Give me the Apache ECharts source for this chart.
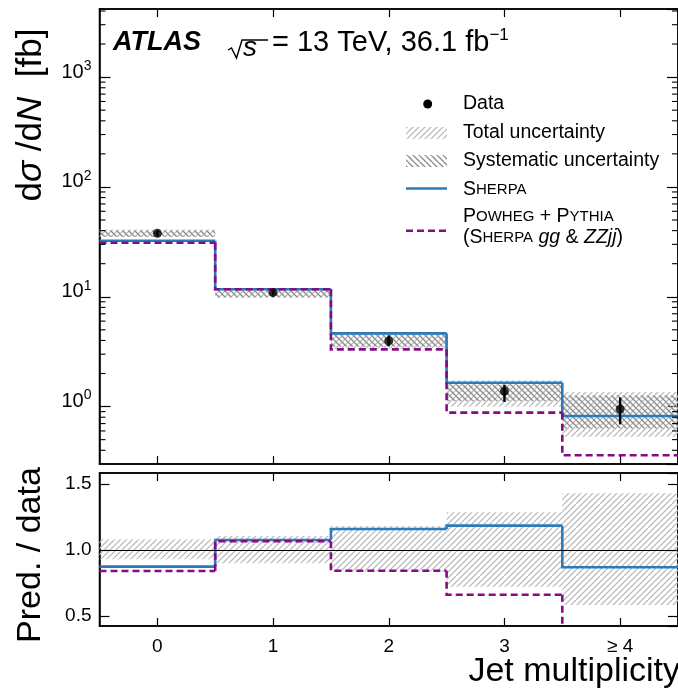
<!DOCTYPE html>
<html>
<head>
<meta charset="utf-8">
<script src="https://cdn.jsdelivr.net/npm/echarts@6/dist/echarts.min.js"></script>
<style>
  html, body { margin: 0; padding: 0; background: #fff; }
  #chart { width: 678px; height: 698px; }
</style>
</head>
<body>
<div id="chart"></div>
<script>
// jet multiplicity bins
const categories = ['0', '1', '2', '3', '≥ 4'];

// upper panel, dsigma/dN [fb]
const dataValues   = [37.8, 10.9, 3.96, 1.38, 0.95];
const dataErrLow   = [35.6, 10.3, 3.55, 1.10, 0.69];
const dataErrHigh  = [40.2, 11.5, 4.45, 1.57, 1.21];
const sherpaValues = [32.4, 11.7, 4.64, 1.65, 0.82];
const powhegValues = [31.0, 11.7, 3.32, 0.88, 0.36];
const totalLow  = [35.0, 9.8, 3.35, 1.00, 0.53];
const totalHigh = [40.9, 12.0, 4.70, 1.74, 1.36];
const systLow   = [35.2, 9.9, 3.50, 1.12, 0.63];
const systHigh  = [40.2, 11.4, 4.60, 1.60, 1.27];

// lower panel, prediction / data
const ratioLow    = [0.930, 0.900, 0.836, 0.722, 0.583];
const ratioHigh   = [1.081, 1.106, 1.182, 1.286, 1.430];
const ratioSherpa = [0.874, 1.076, 1.159, 1.184, 0.869];
const ratioPowheg = [0.841, 1.066, 0.842, 0.661, 0.380];

// tick labels
const logTickExps = [0, 1, 2, 3];
const ratioTickLabels = ['0.5', '1.0', '1.5'];
// minor ticks of the log axis (2..9 x 10^k)
const minorTicks = [];
[0.1, 1, 10, 100, 1000].forEach(d => [2,3,4,5,6,7,8,9].forEach(m => {
  const v = +(m * d).toPrecision(3);
  if (v > 0.3 && v < 4170) minorTicks.push(v);
}));

const FONT = 'Liberation Sans, Arial, Helvetica, sans-serif';
const BLUE = '#2b7bba';
const PURPLE = '#850c85';

function hatch(color, forward, size, lw) {
  const c = document.createElement('canvas');
  c.width = c.height = size;
  const g = c.getContext('2d');
  g.strokeStyle = color;
  g.lineWidth = lw;
  g.beginPath();
  for (let k = -1; k <= 1; k++) {
    if (forward) { g.moveTo(k * size, size); g.lineTo(k * size + size, 0); }
    else { g.moveTo(k * size, 0); g.lineTo(k * size + size, size); }
  }
  g.stroke();
  return c;
}
const totalFill = { image: hatch('#bcbcbc', true, 6, 1.3), repeat: 'repeat' };
const systFill = { image: hatch('#8a8a8a', false, 6, 1.3), repeat: 'repeat' };

const bandData = (lo, hi) => lo.map((l, i) => [i, l, hi[i]]);
const stepData = vals => vals.map((v, i) => [i, v, i > 0 ? vals[i - 1] : v]);

function bandRender(fill) {
  return function (params, api) {
    const i = api.value(0);
    const w = api.size([1, 1], [i, 1])[0];
    const a = api.coord([i, api.value(2)]);
    const b = api.coord([i, api.value(1)]);
    return { type: 'rect', shape: { x: a[0] - w / 2, y: a[1], width: w, height: b[1] - a[1] }, style: { fill: fill } };
  };
}
function stepRender(color, dash) {
  return function (params, api) {
    const i = api.value(0);
    const w = api.size([1, 1], [i, 1])[0];
    const c = api.coord([i, api.value(1)]);
    const pts = [];
    if (i > 0) pts.push([c[0] - w / 2, api.coord([i, api.value(2)])[1]]);
    pts.push([c[0] - w / 2, c[1]], [c[0] + w / 2, c[1]]);
    return { type: 'polyline', shape: { points: pts }, style: { stroke: color, lineWidth: 2.6, lineDash: dash, fill: null } };
  };
}
function errRender(params, api) {
  const lo = api.coord([api.value(0), api.value(1)]);
  const hi = api.coord([api.value(0), api.value(2)]);
  return { type: 'line', shape: { x1: lo[0], y1: lo[1], x2: hi[0], y2: hi[1] }, style: { stroke: '#000', lineWidth: 2.4 } };
}
// minor tick on the left (side 0) or right (side 4) frame
function minorRender(side) {
  return function (params, api) {
    const w = api.size([1, 1], [side, 1])[0];
    const c = api.coord([side, api.value(1)]);
    const x0 = side === 0 ? c[0] - w / 2 : c[0] + w / 2;
    const x1 = side === 0 ? x0 + 6 : x0 - 6;
    return { type: 'line', shape: { x1: x0, y1: c[1], x2: x1, y2: c[1] }, style: { stroke: '#000', lineWidth: 1.1 } };
  };
}

const axisLine = { show: true, lineStyle: { color: '#000', width: 1.5 } };
function xAx(grid, pos, labels) {
  return {
    gridIndex: grid, type: 'category', data: categories, position: pos, boundaryGap: true,
    axisLine: axisLine,
    axisTick: { show: true, inside: true, alignWithLabel: true, length: 8, lineStyle: { color: '#000', width: 1.2 } },
    axisLabel: { show: labels, color: '#000', fontSize: 19, fontFamily: FONT, margin: 11 },
    splitLine: { show: false }
  };
}
const supRich = {
  b: { fontSize: 20, fontFamily: FONT, color: '#000', lineHeight: 26 },
  s: { fontSize: 14, fontFamily: FONT, color: '#000', verticalAlign: 'top', lineHeight: 13 }
};
function logAx(pos, labels) {
  return {
    gridIndex: 0, type: 'log', logBase: 10, min: 0.3, max: 4170, position: pos,
    axisLine: axisLine,
    axisTick: { show: true, inside: true, length: 11, lineStyle: { color: '#000', width: 1.2 } },
    axisLabel: {
      show: labels, margin: 8, showMinLabel: false, showMaxLabel: false, rich: supRich,
      padding: [0, 0, 10, 0],
      formatter: v => {
        const l = Math.log10(v), e = Math.round(l);
        if (Math.abs(l - e) > 1e-6 || logTickExps.indexOf(e) < 0) return '';
        return '{b|10}{s|' + e + '}';
      }
    },
    splitLine: { show: false }, minorTick: { show: false }
  };
}
function ratioAx(pos, labels) {
  return {
    gridIndex: 1, type: 'value', min: 0.424, max: 1.583, splitNumber: 2, position: pos,
    axisLine: axisLine,
    axisTick: { show: true, inside: true, length: 10, lineStyle: { color: '#000', width: 1.2 } },
    axisLabel: {
      show: labels, margin: 8, showMinLabel: false, showMaxLabel: false,
      color: '#000', fontSize: 19, fontFamily: FONT,
      formatter: v => { const t = v.toFixed(1); return ratioTickLabels.indexOf(t) >= 0 && Math.abs(v - +t) < 1e-6 ? t : ''; }
    },
    splitLine: { show: false }
  };
}

const txt = (extra) => Object.assign({ fontFamily: FONT, fill: '#000' }, extra);
const legendRich = {
  n:  { fontSize: 19.5, fontFamily: FONT, color: '#000' },
  L:  { fontSize: 19.5, fontFamily: FONT, color: '#000' },
  sc: { fontSize: 15, fontFamily: FONT, color: '#000' },
  i:  { fontSize: 19.5, fontFamily: FONT, color: '#000', fontStyle: 'italic' }
};

const option = {
  backgroundColor: '#fff',
  animation: false,
  grid: [
    { left: 99.5, top: 9, width: 582.5, height: 455, show: true, borderColor: '#000', borderWidth: 1.5 },
    { left: 99.5, top: 473, width: 582.5, height: 153, show: true, borderColor: '#000', borderWidth: 1.5 }
  ],
  xAxis: [xAx(0, 'bottom', false), xAx(0, 'top', false), xAx(1, 'bottom', true), xAx(1, 'top', false)],
  yAxis: [logAx('left', true), logAx('right', false), ratioAx('left', true), ratioAx('right', false)],
  series: [
    { type: 'custom', name: 'Total uncertainty', xAxisIndex: 0, yAxisIndex: 0, renderItem: bandRender(totalFill), data: bandData(totalLow, totalHigh), clip: true, silent: true },
    { type: 'custom', name: 'Systematic uncertainty', xAxisIndex: 0, yAxisIndex: 0, renderItem: bandRender(systFill), data: bandData(systLow, systHigh), clip: true, silent: true },
    { type: 'custom', name: 'minorL', xAxisIndex: 0, yAxisIndex: 0, renderItem: minorRender(0), data: minorTicks.map(v => [0, v]), silent: true, z: 10 },
    { type: 'custom', name: 'minorR', xAxisIndex: 0, yAxisIndex: 0, renderItem: minorRender(4), data: minorTicks.map(v => [4, v]), silent: true, z: 10 },
    { type: 'custom', name: 'Sherpa', xAxisIndex: 0, yAxisIndex: 0, renderItem: stepRender(BLUE, null), data: stepData(sherpaValues), clip: true, silent: true },
    { type: 'custom', name: 'Powheg', xAxisIndex: 0, yAxisIndex: 0, renderItem: stepRender(PURPLE, [7, 4]), data: stepData(powhegValues), clip: true, silent: true },
    { type: 'custom', name: 'Data err', xAxisIndex: 0, yAxisIndex: 0, renderItem: errRender, data: dataErrLow.map((l, i) => [i, l, dataErrHigh[i]]), silent: true },
    { type: 'scatter', name: 'Data', xAxisIndex: 0, yAxisIndex: 0, data: dataValues.map((v, i) => [i, v]), symbolSize: 9, itemStyle: { color: '#000' }, silent: true, z: 5 },

    { type: 'custom', name: 'Ratio unc', xAxisIndex: 2, yAxisIndex: 2, renderItem: bandRender(totalFill), data: bandData(ratioLow, ratioHigh), clip: true, silent: true,
      markLine: { silent: true, symbol: 'none', label: { show: false }, lineStyle: { color: '#000', width: 1.2, type: 'solid' }, data: [{ yAxis: 1 }] } },
    { type: 'custom', name: 'Ratio Sherpa', xAxisIndex: 2, yAxisIndex: 2, renderItem: stepRender(BLUE, null), data: stepData(ratioSherpa), clip: true, silent: true },
    { type: 'custom', name: 'Ratio Powheg', xAxisIndex: 2, yAxisIndex: 2, renderItem: stepRender(PURPLE, [7, 4]), data: stepData(ratioPowheg), clip: true, silent: true }
  ],
  graphic: { elements: [
    // axis titles
    { type: 'text', x: 31, y: 115, rotation: Math.PI / 2, style: txt({
        text: '{n|d}{i|σ}{n| /d}{i|N}{n|  [fb]}', align: 'center', verticalAlign: 'middle',
        rich: { n: { fontSize: 35, fontFamily: FONT }, i: { fontSize: 35, fontFamily: FONT, fontStyle: 'italic' } } }) },
    { type: 'text', x: 31, y: 555, rotation: Math.PI / 2, style: txt({ text: 'Pred. / data', fontSize: 34, align: 'center', verticalAlign: 'middle' }) },
    { type: 'text', x: 680, y: 672, style: txt({ text: 'Jet multiplicity', fontSize: 34, align: 'right', verticalAlign: 'middle' }) },
    // ATLAS label
    { type: 'text', x: 113, y: 43, style: txt({ text: 'ATLAS', fontSize: 27, fontWeight: 'bold', fontStyle: 'italic', verticalAlign: 'middle' }) },
    { type: 'polyline', shape: { points: [[228, 50], [231.5, 48], [236.5, 58], [242, 40], [268, 40]] }, style: { stroke: '#000', lineWidth: 1.4, fill: null } },
    { type: 'text', x: 243, y: 48, style: txt({ text: 's', fontSize: 28, fontStyle: 'italic', verticalAlign: 'middle' }) },
    { type: 'text', x: 272, y: 43, style: txt({
        text: '{n|= 13 TeV, 36.1 fb}{s|−1}', verticalAlign: 'middle',
        rich: {
          n: { fontSize: 29, fontFamily: FONT, lineHeight: 32 },
          s: { fontSize: 17, fontFamily: FONT, verticalAlign: 'top', lineHeight: 14 }
        } }) },
    // legend
    { type: 'circle', shape: { cx: 427.7, cy: 104, r: 4.5 }, style: { fill: '#000' } },
    { type: 'text', x: 463, y: 104, style: txt({ text: 'Data', fontSize: 19.5, verticalAlign: 'middle' }) },
    { type: 'rect', shape: { x: 406, y: 127, width: 41, height: 12 }, style: { fill: totalFill } },
    { type: 'text', x: 463, y: 133, style: txt({ text: 'Total uncertainty', fontSize: 19.5, verticalAlign: 'middle' }) },
    { type: 'rect', shape: { x: 406, y: 155, width: 41, height: 12 }, style: { fill: systFill } },
    { type: 'text', x: 463, y: 161, style: txt({ text: 'Systematic uncertainty', fontSize: 19.5, verticalAlign: 'middle' }) },
    { type: 'line', shape: { x1: 406, y1: 188.5, x2: 447, y2: 188.5 }, style: { stroke: BLUE, lineWidth: 2.6 } },
    { type: 'text', x: 463, y: 190, style: txt({ text: '{L|S}{sc|HERPA}', verticalAlign: 'middle', rich: legendRich }) },
    { type: 'line', shape: { x1: 406, y1: 230.7, x2: 447, y2: 230.7 }, style: { stroke: PURPLE, lineWidth: 2.6, lineDash: [7, 4] } },
    { type: 'text', x: 463, y: 217, style: txt({ text: '{L|P}{sc|OWHEG}{n| + }{L|P}{sc|YTHIA}', verticalAlign: 'middle', rich: legendRich }) },
    { type: 'text', x: 463, y: 238, style: txt({ text: '{n|(}{L|S}{sc|HERPA}{n| }{i|gg}{n| & }{i|ZZjj}{n|)}', verticalAlign: 'middle', rich: legendRich }) }
  ] }
};

const chart = echarts.init(document.getElementById('chart'));
chart.setOption(option);
window.onresize = chart.resize;
</script>
</body>
</html>
